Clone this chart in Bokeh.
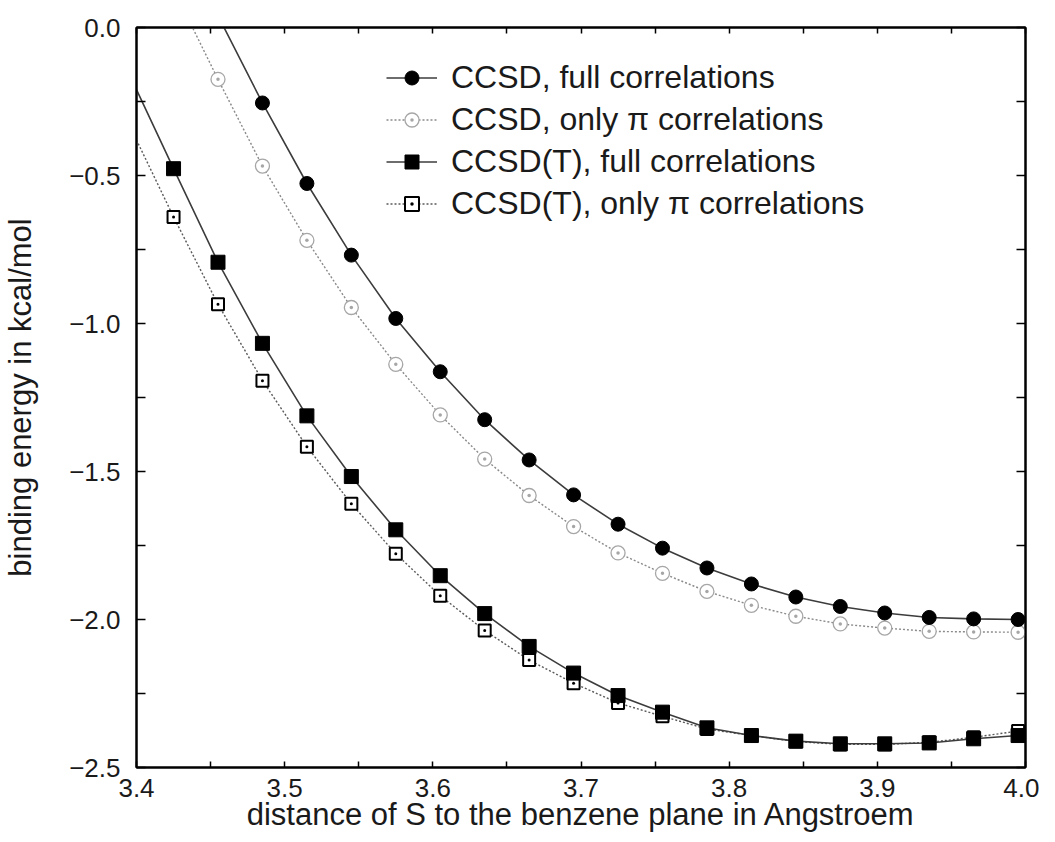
from bokeh.plotting import figure
from bokeh.models import (LinearAxis, FixedTicker, Range1d, Legend, LegendItem,
                          ColumnDataSource, CustomJSTickFormatter, CustomLabelingPolicy)
from bokeh.embed import file_html
from bokeh.resources import INLINE

# ---------------- data ----------------
# distance of S to the benzene plane (Angstroem)
x_ccsdt = [3.425, 3.455, 3.485, 3.515, 3.545, 3.575, 3.605, 3.635, 3.665, 3.695,
           3.725, 3.755, 3.785, 3.815, 3.845, 3.875, 3.905, 3.935, 3.965, 3.995]
ccsdt_full = [-0.477, -0.793, -1.067, -1.312, -1.517, -1.697, -1.852, -1.980, -2.091, -2.181,
              -2.257, -2.313, -2.366, -2.392, -2.411, -2.420, -2.420, -2.417, -2.403, -2.392]
ccsdt_pi = [-0.640, -0.935, -1.193, -1.416, -1.609, -1.778, -1.920, -2.037, -2.137, -2.215,
            -2.282, -2.327, -2.370, -2.392, -2.412, -2.422, -2.422, -2.415, -2.398, -2.377]

x_ccsd_full = [3.485, 3.515, 3.545, 3.575, 3.605, 3.635, 3.665, 3.695, 3.725,
               3.755, 3.785, 3.815, 3.845, 3.875, 3.905, 3.935, 3.965, 3.995]
ccsd_full = [-0.255, -0.527, -0.769, -0.983, -1.163, -1.325, -1.461, -1.579, -1.678,
             -1.759, -1.826, -1.880, -1.924, -1.956, -1.978, -1.993, -1.998, -2.000]

x_ccsd_pi = [3.455, 3.485, 3.515, 3.545, 3.575, 3.605, 3.635, 3.665, 3.695, 3.725,
             3.755, 3.785, 3.815, 3.845, 3.875, 3.905, 3.935, 3.965, 3.995]
ccsd_pi = [-0.175, -0.468, -0.719, -0.946, -1.138, -1.309, -1.458, -1.581, -1.686, -1.775,
           -1.844, -1.905, -1.952, -1.989, -2.015, -2.029, -2.040, -2.042, -2.043]

# fitted curves continue beyond the first computed point
fit_ccsdt_x0, fit_ccsdt_full_y0, fit_ccsdt_pi_y0 = 3.40, -0.21, -0.38
fit_ccsd_full_x0, fit_ccsd_full_y0 = 3.455, 0.04
fit_ccsd_pi_x0, fit_ccsd_pi_y0 = 3.425, 0.13

legend_labels = ["CCSD, full correlations", "CCSD, only \u03c0 correlations",
                 "CCSD(T), full correlations", "CCSD(T), only \u03c0 correlations"]
x_title = "distance of S to the benzene plane in Angstroem"
y_title = "binding energy in kcal/mol"

x_major = [3.4, 3.5, 3.6, 3.7, 3.8, 3.9, 4.0]
x_minor = [3.45, 3.55, 3.65, 3.75, 3.85, 3.95]
y_major = [0.0, -0.5, -1.0, -1.5, -2.0, -2.5]
y_minor = [-0.25, -0.75, -1.25, -1.75, -2.25]

FONT = "Liberation Sans"
TEXT = "#1a1a1a"

# ---------------- figure ----------------
p = figure(width=1039, height=834, x_range=Range1d(3.4, 4.0), y_range=Range1d(-2.5, 0.0),
           output_backend="svg", toolbar_location=None,
           min_border_left=128, min_border_right=14, min_border_top=27, min_border_bottom=66)
p.background_fill_color = "white"
p.border_fill_color = "white"
p.xgrid.visible = False
p.ygrid.visible = False
p.outline_line_color = "black"
p.outline_line_width = 2

fmt = CustomJSTickFormatter(code="return tick.toFixed(1).replace('-', '\u2212');")
no_labels = CustomLabelingPolicy(code="""
    const all = Array.from(indices);
    for (const i of all) indices.unset(i);
    return indices;
""")

def style_axis(ax, major, minor, tick_len, show_labels):
    ax.ticker = FixedTicker(ticks=major, minor_ticks=minor)
    ax.major_tick_in = tick_len
    ax.major_tick_out = 0
    ax.minor_tick_in = tick_len
    ax.minor_tick_out = 0
    ax.major_tick_line_color = "black"
    ax.minor_tick_line_color = "black"
    ax.major_tick_line_width = 1.5
    ax.minor_tick_line_width = 1.5
    ax.axis_line_color = "black"
    ax.axis_line_width = 2
    if show_labels:
        ax.formatter = fmt
        ax.major_label_text_font = FONT
        ax.major_label_text_font_size = "26px"
        ax.major_label_text_color = TEXT
    else:
        ax.major_label_policy = no_labels
        ax.major_label_text_font_size = "0px"
        ax.major_label_standoff = 0

xa = p.xaxis[0]
style_axis(xa, x_major, x_minor, 6, True)
xa.major_label_standoff = 11
xa.axis_label = x_title
xa.axis_label_text_font = FONT
xa.axis_label_text_font_size = "31px"
xa.axis_label_text_font_style = "normal"
xa.axis_label_text_color = TEXT
xa.axis_label_standoff = -3

ya = p.yaxis[0]
style_axis(ya, y_major, y_minor, 9, True)
ya.major_label_standoff = 16
ya.axis_label = y_title
ya.axis_label_text_font = FONT
ya.axis_label_text_font_size = "31px"
ya.axis_label_text_font_style = "normal"
ya.axis_label_text_color = TEXT
ya.axis_label_standoff = 28

top = LinearAxis()
style_axis(top, x_major, x_minor, 6, False)
p.add_layout(top, "above")
right = LinearAxis()
style_axis(right, y_major, y_minor, 9, False)
p.add_layout(right, "right")

# ---------------- series ----------------
src_t = ColumnDataSource(dict(x=x_ccsdt, full=ccsdt_full, pi=ccsdt_pi))
src_cf = ColumnDataSource(dict(x=x_ccsd_full, y=ccsd_full))
src_cp = ColumnDataSource(dict(x=x_ccsd_pi, y=ccsd_pi))

SOLID = "#3c3c3c"

# CCSD, only pi
l_cp = p.line([fit_ccsd_pi_x0] + x_ccsd_pi, [fit_ccsd_pi_y0] + ccsd_pi,
              line_color="#8a8a8a", line_width=1.4, line_dash="2 2")
m_cp = p.scatter("x", "y", source=src_cp, marker="circle_dot", size=14,
                 fill_color="white", line_color="#a6a6a6", line_width=1.3)
# CCSD, full
l_cf = p.line([fit_ccsd_full_x0] + x_ccsd_full, [fit_ccsd_full_y0] + ccsd_full,
              line_color=SOLID, line_width=1.6)
m_cf = p.scatter("x", "y", source=src_cf, marker="circle", size=14,
                 fill_color="black", line_color="black")
# CCSD(T), only pi
l_tp = p.line([fit_ccsdt_x0] + x_ccsdt, [fit_ccsdt_pi_y0] + ccsdt_pi,
              line_color="#5a5a5a", line_width=1.4, line_dash="2 2")
m_tp = p.scatter("x", "pi", source=src_t, marker="square_dot", size=12,
                 fill_color="white", line_color="black", line_width=2)
# CCSD(T), full
l_tf = p.line([fit_ccsdt_x0] + x_ccsdt, [fit_ccsdt_full_y0] + ccsdt_full,
              line_color=SOLID, line_width=1.6)
m_tf = p.scatter("x", "full", source=src_t, marker="square", size=14,
                 fill_color="black", line_color="black")

legend = Legend(items=[
    LegendItem(label=legend_labels[0], renderers=[l_cf, m_cf]),
    LegendItem(label=legend_labels[1], renderers=[l_cp, m_cp]),
    LegendItem(label=legend_labels[2], renderers=[l_tf, m_tf]),
    LegendItem(label=legend_labels[3], renderers=[l_tp, m_tp]),
], location=(250, 545))
legend.padding = 0
legend.margin = 0
legend.spacing = 5
legend.label_height = 35
legend.glyph_height = 35
legend.glyph_width = 51
legend.label_standoff = 14
legend.label_text_font = FONT
legend.label_text_font_size = "32px"
legend.label_text_color = TEXT
legend.border_line_alpha = 0
legend.background_fill_alpha = 0
p.add_layout(legend)

open("out.html", "w").write(file_html(p, INLINE))
